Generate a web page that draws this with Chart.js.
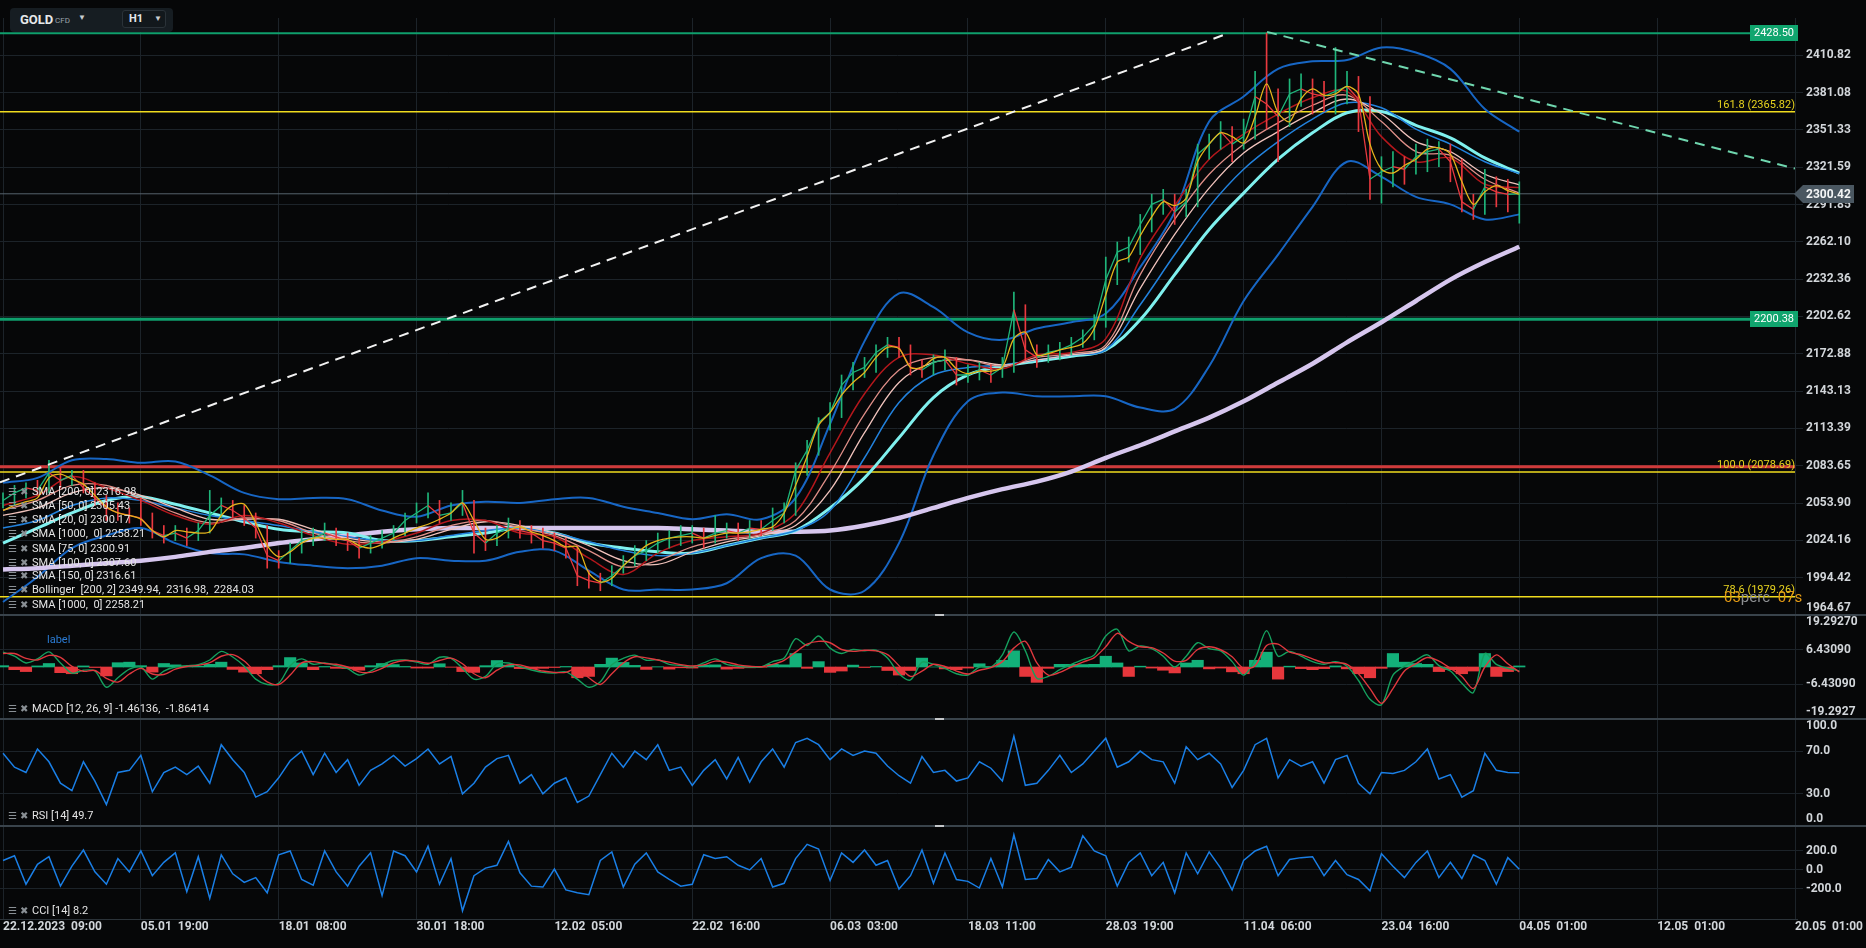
<!DOCTYPE html>
<html><head><meta charset="utf-8">
<script src="https://cdn.jsdelivr.net/npm/chart.js"></script>
<style>
html,body{margin:0;padding:0;background:#060708;overflow:hidden;}
#wrap{position:relative;width:1866px;height:948px;background:#060708;}
#c{position:absolute;left:0;top:0;}
#hdr{position:absolute;left:10px;top:8px;width:163px;height:24px;background:#161d22;border-radius:4px;font-family:Roboto,"Noto Sans",sans-serif;}
#hdr .sym{position:absolute;left:10px;top:4px;font-size:13px;font-weight:bold;color:#e6e9eb;}
#hdr .cfd{position:absolute;left:45px;top:8px;font-size:8px;color:#9aa3aa;}
#hdr .car{position:absolute;left:68px;top:5px;font-size:8px;color:#c8ccd0;}
#hdr .tf{position:absolute;left:112px;top:2px;width:42px;height:16px;border:1px solid #2a3238;border-radius:3px;background:#12181c;}
#hdr .tf b{position:absolute;left:6px;top:1px;font-size:11px;color:#e6e9eb;}
#hdr .tf i{position:absolute;left:31px;top:3px;font-size:8px;font-style:normal;color:#c8ccd0;}
.lg{position:absolute;left:8px;height:14px;line-height:14px;font-family:Roboto,"Noto Sans",sans-serif;font-size:11px;color:#e4e4e4;white-space:pre;}
.lg .ic{display:inline-block;width:12px;color:#8a9095;font-size:10px;font-family:"DejaVu Sans",sans-serif;}
.lbl{position:absolute;left:47px;top:633px;font-family:Roboto,sans-serif;font-size:11px;color:#2b7bd3;}
</style>
</head><body>
<div id="wrap">
<canvas id="c" width="1866" height="948"></canvas>
<div id="hdr"><span class="sym">GOLD</span><span class="cfd">CFD</span><span class="car">▼</span><div class="tf"><b>H1</b><i>▼</i></div></div>
<div class="lg" style="top:485px"><span class="ic">☰</span><span class="ic">✖</span>SMA [200, 0] 2316.98</div>
<div class="lg" style="top:499px"><span class="ic">☰</span><span class="ic">✖</span>SMA [50, 0] 2305.43</div>
<div class="lg" style="top:513px"><span class="ic">☰</span><span class="ic">✖</span>SMA [20, 0] 2300.17</div>
<div class="lg" style="top:527px"><span class="ic">☰</span><span class="ic">✖</span>SMA [1000,  0] 2258.21</div>
<div class="lg" style="top:542px"><span class="ic">☰</span><span class="ic">✖</span>SMA [75, 0] 2300.91</div>
<div class="lg" style="top:556px"><span class="ic">☰</span><span class="ic">✖</span>SMA [100, 0] 2307.60</div>
<div class="lg" style="top:569px"><span class="ic">☰</span><span class="ic">✖</span>SMA [150, 0] 2316.61</div>
<div class="lg" style="top:583px"><span class="ic">☰</span><span class="ic">✖</span>Bollinger  [200, 2] 2349.94,  2316.98,  2284.03</div>
<div class="lg" style="top:598px"><span class="ic">☰</span><span class="ic">✖</span>SMA [1000,  0] 2258.21</div>
<div class="lbl">label</div>
<div class="lg" style="top:702px"><span class="ic">☰</span><span class="ic">✖</span>MACD [12, 26, 9] -1.46136,  -1.86414</div>
<div class="lg" style="top:809px"><span class="ic">☰</span><span class="ic">✖</span>RSI [14] 49.7</div>
<div class="lg" style="top:904px"><span class="ic">☰</span><span class="ic">✖</span>CCI [14] 8.2</div>
</div>
<script>
// ---------- DATA ----------
const xLabels = ['22.12.2023  09:00','05.01  19:00','18.01  08:00','30.01  18:00','12.02  05:00','22.02  16:00','06.03  03:00','18.03  11:00','28.03  19:00','11.04  06:00','23.04  16:00','04.05  01:00','12.05  01:00','20.05  01:00'];

const mainTicks = [1964.67,1994.42,2024.16,2053.90,2083.65,2113.39,2143.13,2172.88,2202.62,2232.36,2262.10,2291.85,2321.59,2351.33,2381.08,2410.82];
const macdTicks = [-19.2927,-6.4309,6.4309,19.2927];
const macdTickLabels = ['-19.2927','-6.43090','6.43090','19.29270'];
const rsiTicks = [0,30,70,100];
const cciTicks = [-200,0,200];

const close = [2056,2062,2066,2064,2078,2072,2076,2066,2058,2050,
2046,2044,2042,2032,2028,2030,2026,2032,2044,2052,
2048,2042,2034,2012,2008,2016,2024,2026,2030,2027,
2024,2018,2022,2026,2030,2040,2046,2052,2044,2046,
2054,2030,2022,2030,2034,2032,2030,2024,2022,2018,
1996,1992,1990,1996,2004,2012,2016,2022,2026,2028,
2030,2026,2030,2032,2030,2034,2033,2040,2046,2080,
2096,2118,2126,2148,2158,2162,2174,2180,2178,2162,
2160,2166,2168,2156,2156,2160,2156,2162,2208,2176,
2170,2174,2176,2180,2186,2196,2232,2254,2258,2276,
2292,2296,2286,2294,2332,2340,2350,2340,2346,2378,
2372,2362,2380,2384,2380,2378,2382,2386,2376,2312,
2318,2322,2320,2330,2334,2336,2326,2294,2288,2306,
2302,2300,2300.42];
const high = [2062,2068,2070,2072,2088,2082,2080,2080,2070,2060,
2054,2050,2058,2046,2036,2036,2034,2038,2064,2058,
2056,2052,2046,2036,2016,2022,2032,2034,2038,2034,
2030,2026,2028,2032,2036,2046,2054,2062,2056,2054,
2064,2056,2034,2036,2042,2040,2036,2034,2030,2026,
2020,2000,1998,2004,2012,2020,2024,2030,2032,2036,
2036,2034,2044,2038,2038,2040,2040,2050,2054,2086,
2104,2122,2134,2156,2166,2170,2180,2186,2186,2180,
2168,2172,2176,2170,2164,2166,2164,2170,2222,2212,
2180,2180,2182,2186,2192,2204,2250,2262,2266,2284,
2300,2304,2300,2304,2340,2348,2358,2354,2360,2398,
2428.5,2384,2392,2396,2392,2390,2417,2398,2394,2378,
2330,2334,2330,2340,2344,2342,2340,2328,2300,2320,
2314,2312,2310];
const low = [2050,2052,2058,2060,2062,2066,2068,2062,2052,2040,
2040,2038,2036,2026,2022,2024,2020,2024,2030,2042,
2042,2036,2026,2002,2002,2006,2014,2020,2024,2020,
2016,2010,2014,2018,2024,2028,2038,2042,2038,2040,
2044,2014,2016,2020,2026,2026,2022,2018,2016,2010,
1988,1986,1984,1988,1998,2004,2008,2014,2018,2020,
2022,2018,2022,2026,2024,2026,2028,2032,2038,2044,
2076,2092,2112,2122,2144,2154,2158,2170,2170,2156,
2154,2156,2160,2148,2150,2152,2150,2154,2158,2168,
2162,2166,2168,2172,2178,2184,2194,2228,2246,2252,
2270,2284,2276,2282,2290,2328,2336,2326,2336,2344,
2352,2326,2354,2370,2364,2366,2364,2372,2350,2296,
2293,2306,2308,2316,2318,2322,2310,2286,2280,2284,
2290,2286,2277];
const sma20 = [2048,2052,2055,2058,2074,2077,2073,2069,2060,2051,
2046,2044,2041,2032,2027,2032,2031,2030,2031,2044,
2052,2053,2038,2020,2011,2015,2022,2026,2026,2025,
2025,2020,2018,2021,2026,2030,2034,2037,2041,2046,
2054,2040,2025,2026,2032,2035,2031,2028,2024,2019,
2019,1998,1991,1994,2004,2012,2020,2024,2026,2027,
2027,2026,2028,2030,2030,2031,2033,2035,2046,2068,
2091,2116,2126,2140,2150,2158,2170,2178,2177,2162,
2162,2169,2170,2161,2157,2159,2159,2162,2185,2190,
2172,2173,2176,2178,2181,2193,2220,2246,2250,2267,
2282,2294,2291,2297,2326,2340,2349,2346,2341,2362,
2388,2365,2358,2376,2384,2379,2380,2386,2380,2340,
2320,2317,2323,2328,2336,2337,2332,2310,2292,2302,
2307,2303,2300.17];
// slower averages, 4 samples per axis step
const sma50 = [2052,2060,2075,2066,2056,2044,2037,2044,2038,2028,
2021,2023,2030,2040,2040,2030,2027,2010,1997,2014,
2024,2027,2030,2046,2094,2141,2170,2172,2165,2161,
2172,2174,2185,2249,2291,2328,2348,2364,2377,2382,
2346,2326,2329,2308,2305.43];
const sma75 = [2048,2056,2068,2068,2058,2046,2038,2042,2040,2030,
2024,2022,2027,2036,2040,2034,2028,2016,2003,2008,
2019,2025,2029,2040,2078,2125,2160,2170,2168,2163,
2170,2173,2180,2236,2280,2316,2340,2357,2371,2379,
2358,2334,2331,2312,2300.91];
const sma100 = [2044,2050,2062,2066,2060,2050,2041,2041,2041,2033,
2026,2023,2025,2033,2039,2036,2030,2020,2008,2005,
2015,2023,2028,2036,2064,2110,2150,2166,2168,2164,
2168,2172,2178,2225,2268,2305,2333,2350,2365,2376,
2364,2342,2334,2316,2307.60];
const sma150 = [2034,2040,2052,2058,2056,2050,2044,2040,2036,2031,
2027,2024,2024,2028,2032,2034,2030,2023,2016,2012,
2014,2020,2026,2032,2048,2090,2134,2156,2162,2164,
2168,2172,2176,2212,2252,2290,2320,2342,2360,2373,
2369,2352,2340,2326,2316.61];
const sma200 = [2022,2034,2046,2056,2059,2053,2046,2039,2033,2031,
2030,2024,2024,2027,2030,2034,2030,2022,2018,2015,
2014,2020,2026,2032,2050,2074,2106,2138,2156,2163,
2167,2171,2176,2200,2236,2272,2301,2328,2349,2365,
2366,2355,2345,2329,2316.98];
const sma1000 = [2001,2002,2004,2006,2008,2011,2015,2018,2022,2025,
2028,2031,2033,2034,2034,2034,2034,2034,2034,2034,
2033,2032,2031,2031,2032,2036,2042,2050,2058,2065,
2071,2079,2090,2100,2111,2122,2135,2150,2165,2182,
2198,2215,2232,2246,2258.21];
const bbUpper = [2070,2074,2088,2089,2086,2087,2076,2062,2057,2058,
2057,2048,2043,2052,2055,2054,2057,2058,2051,2046,
2041,2045,2041,2058,2117,2183,2221,2210,2190,2184,
2193,2198,2205,2242,2286,2358,2378,2400,2406,2407,
2417,2413,2400,2368,2349.94];
const bbLower = [1975,1995,2018,2028,2034,2022,2014,2013,2007,2004,
2002,2004,2010,2008,2008,2015,2016,2000,1985,1985,
1985,1990,2010,2012,1985,1984,2022,2092,2135,2142,
2139,2139,2139,2130,2129,2163,2215,2252,2290,2326,
2314,2298,2292,2280,2284.03];

const macd = [5.5,4.0,1.5,3.0,5.6,1.5,-2.3,-1.2,-1.5,-7.5,
-4.0,-0.8,0.0,-4.5,-1.5,0.0,0.5,0.9,2.6,5.8,
3.7,0.3,-4.5,-6.5,-6.0,0.5,3.0,1.0,1.5,0.5,
-0.6,-3.0,-1.5,0.8,2.4,2.6,1.8,1.0,3.6,3.2,
-0.5,-4.5,-3.5,1.2,1.5,0.2,-1.1,-2.0,-2.2,-1.8,
-4.5,-7.5,-5.5,0.8,3.2,4.4,2.5,2.7,1.0,0.6,
0.0,1.5,3.0,1.0,0.3,0.0,0.0,2.0,3.3,10.5,
8.0,11.5,7.0,5.0,6.5,6.0,6.2,3.3,-2.5,-4.8,
1.8,1.0,-0.5,-2.5,-3.0,0.0,0.0,4.5,13.0,6.0,
-4.2,-3.5,-1.0,1.0,2.7,4.5,11.5,14.0,6.0,7.8,
6.8,4.0,0.0,4.0,9.0,6.8,6.0,2.0,-3.0,3.0,
13.5,4.0,5.8,4.0,2.0,1.0,2.0,0.3,-5.0,-12.0,
-14.0,-3.0,0.3,2.5,4.5,0.5,-1.5,-6.0,-9.5,5.0,
1.0,-0.5,-1.46136];
const signal = [5.0,5.0,3.2,2.6,4.3,3.6,0.2,-1.6,-1.3,-4.2,
-5.6,-2.6,-0.5,-2.6,-2.8,-0.8,0.2,0.6,1.6,4.0,
4.6,2.2,-2.0,-5.5,-6.5,-3.0,1.5,2.0,1.3,1.0,
0.0,-1.8,-2.0,-0.5,1.5,2.4,2.2,1.4,2.4,3.3,
1.2,-2.5,-4.0,-1.2,0.8,0.8,-0.4,-1.5,-2.0,-2.0,
-0.5,-4.0,-6.5,-2.5,1.5,3.8,3.4,2.6,1.8,0.9,
0.4,0.8,2.2,1.8,0.8,0.3,0.1,1.0,2.5,5.5,
8.5,9.5,9.0,6.5,5.8,6.2,6.0,4.6,0.5,-3.5,
-1.5,1.0,0.2,-1.5,-2.6,-1.2,-0.2,2.0,7.0,9.5,
1.5,-3.0,-2.0,0.0,1.8,3.5,7.5,12.5,9.5,7.5,
7.2,5.2,2.2,2.5,6.5,7.5,6.4,3.8,-0.5,0.5,
8.0,8.5,5.5,4.6,3.0,1.6,1.6,1.0,-2.5,-8.0,
-13.5,-8.0,-1.5,1.2,3.5,2.2,-0.5,-3.5,-8.0,0.0,
4.5,1.2,-1.86414];
const macdHist = [0.5,-1.0,-1.7,0.4,1.3,-2.1,-2.5,0.4,-0.2,-3.3,
1.6,1.8,0.5,-1.9,1.3,0.8,0.3,0.3,1.0,1.8,
-0.9,-1.9,-2.5,-1.0,0.5,3.5,1.5,-1.0,0.2,-0.5,
-0.6,-1.2,0.5,1.3,0.9,0.2,-0.4,-0.4,1.2,-0.1,
-1.7,-2.0,0.5,2.4,0.7,-0.6,-0.7,-0.5,-0.2,0.2,
-4.0,-3.5,1.0,3.3,1.7,0.6,-0.9,0.1,-0.8,-0.3,
-0.4,0.7,0.8,-0.8,-0.5,-0.3,-0.1,1.0,0.8,5.0,
-0.5,2.0,-2.0,-1.5,0.7,-0.2,0.2,-1.3,-3.0,-1.3,
3.3,0.0,-0.7,-1.0,-0.4,1.2,0.2,2.5,6.0,-3.5,
-5.7,-0.5,1.0,1.0,0.9,1.0,4.0,1.5,-3.5,0.3,
-0.4,-1.2,-2.2,1.5,2.5,-0.7,-0.4,-1.8,-2.5,2.5,
5.5,-4.5,0.3,-0.6,-1.0,-0.6,0.4,-0.7,-2.5,-4.0,
-0.5,5.0,1.8,1.3,1.0,-1.7,-1.0,-2.5,-1.5,5.0,
-3.5,-1.7,0.4];
const rsi = [68,55,50,72,60,40,33,60,42,20,
50,52,66,32,50,55,48,56,40,76,
62,50,27,32,45,61,70,48,68,50,
62,38,52,58,66,56,63,72,58,65,
30,40,55,63,66,40,48,30,40,45,
22,28,48,68,55,70,62,76,52,55,
38,52,62,44,64,41,60,72,55,78,
82,76,62,72,66,70,68,56,47,40,
65,50,52,42,45,60,54,42,84,38,
40,52,66,50,58,70,82,55,60,70,
62,60,40,74,62,68,58,36,52,76,
82,45,62,56,60,40,62,66,40,30,
50,49,52,60,72,44,48,27,33,68,
52,50,49.7];
const cci = [100,150,-150,60,140,-170,40,210,-20,-150,
120,-20,200,-60,80,180,-230,140,-300,160,
-40,-130,-80,-240,160,200,-100,-160,200,-20,
-170,40,180,-270,200,150,-20,250,-150,120,
-430,-60,20,50,300,-30,-170,-180,10,-210,
-240,-260,100,190,-180,60,180,-20,-100,-170,
-150,160,120,140,50,0,120,-180,-140,120,
270,220,-110,180,80,210,50,100,-200,-60,
210,-140,180,-100,-120,-190,120,-180,370,-100,
-90,110,-20,30,360,200,150,-170,80,180,
-60,80,-240,180,-40,190,20,-210,100,200,
250,-60,110,130,140,-60,100,-50,-100,-220,
170,40,-80,80,200,-80,80,-90,160,100,
-150,130,8.2];

const greenLevels = [2428.50, 2200.38];
const fibLevels = [2365.82, 2078.69, 1979.26];
const fibLabels = ['161.8 (2365.82)', '100.0 (2078.69)', '78.6 (1979.26)'];
const redLevels = [2082.8];
const lastPrice = 2300.42;
const whiteTrend = [[-0.0218, 2070.4], [8.85, 2426.8]];
const greenTrend = [[9.17, 2429.5], [13, 2320.5]];

// ---------- CHART ----------
const X_MIN = -0.0218, X_MAX = 13;
const STEP = 1/12, MA_STEP = 0.25;
const GRID = '#1c2329';
const UP = '#1fb57a', DOWN = '#e9393f';
const pts = (arr, step) => arr.map((v, i) => ({x: i * step, y: v}));
const hline = v => [{x: X_MIN, y: v}, {x: X_MAX, y: v}];
const seg = arr => arr.map(p => ({x: p[0], y: p[1]}));

Chart.defaults.font.family = 'Roboto, "Noto Sans", sans-serif';

const ds = [];
const line = (data, color, width, order, axis, extra) => Object.assign({
  type: 'line', data, borderColor: color, borderWidth: width, order,
  yAxisID: axis || 'y', pointRadius: 0, fill: false, tension: 0
}, extra || {});

// levels (back)
greenLevels.forEach((v, i) => ds.push(line(hline(v), '#0f9f6c', i === 0 ? 2 : 3, 100)));
redLevels.forEach(v => ds.push(line(hline(v), '#cf3a3a', 3, 100)));
fibLevels.forEach(v => ds.push(line(hline(v), '#f0dc1e', 1.5, 99)));
ds.push(line(hline(lastPrice), '#56626c', 1, 99));
// bands & averages
ds.push(line(pts(bbUpper, MA_STEP), '#1766c4', 2, 90, 'y', {tension: 0.35}));
ds.push(line(pts(bbLower, MA_STEP), '#1766c4', 2, 90, 'y', {tension: 0.35}));
ds.push(line(pts(sma1000, MA_STEP), '#d6c6ee', 4.5, 88, 'y', {tension: 0.3}));
ds.push(line(pts(sma200, MA_STEP), '#7ff0ee', 3, 86, 'y', {tension: 0.35}));
ds.push(line(pts(sma150, MA_STEP), '#2282dd', 1.5, 84, 'y', {tension: 0.35}));
ds.push(line(pts(sma100, MA_STEP), '#f0c3bc', 1.3, 82, 'y', {tension: 0.35}));
ds.push(line(pts(sma75, MA_STEP), '#df8f88', 1.3, 80, 'y', {tension: 0.35}));
ds.push(line(pts(sma50, MA_STEP), '#b3171c', 1.5, 78, 'y', {tension: 0.35}));
// price wicks + close line
ds.push({type: 'bar', yAxisID: 'y', order: 60, grouped: false, barThickness: 1,
  data: close.map((c, i) => ({x: i * STEP, y: [low[i], high[i]]})),
  backgroundColor: ctx => (ctx.dataIndex > 0 && close[ctx.dataIndex] < close[ctx.dataIndex - 1]) ? DOWN : UP});
ds.push(line(pts(close, STEP), UP, 1.3, 55, 'y', {segment: {borderColor: c => c.p1.parsed.y >= c.p0.parsed.y ? UP : DOWN}}));
ds.push(line(pts(sma20, STEP), '#e4b41c', 1.3, 50, 'y', {tension: 0.3}));
// trend lines
ds.push(line(seg(whiteTrend), '#f2f2f2', 2, 40, 'y', {borderDash: [10, 7]}));
ds.push(line(seg(greenTrend), '#6fd6ae', 2, 40, 'y', {borderDash: [10, 7]}));
// MACD
ds.push({type: 'bar', yAxisID: 'yMacd', order: 30, grouped: false, barPercentage: 1, categoryPercentage: 1, borderWidth: 0,
  data: pts(macdHist, STEP), backgroundColor: ctx => (ctx.raw && ctx.raw.y < 0) ? '#e6373c' : '#13b079'});
ds.push(line(pts(signal, STEP), '#e0383e', 1.4, 20, 'yMacd', {tension: 0.3}));
ds.push(line(pts(macd, STEP), '#15a05e', 1.4, 21, 'yMacd', {tension: 0.3}));
// RSI, CCI
ds.push(line(pts(rsi, STEP), '#1a7fe6', 1.5, 20, 'yRsi'));
ds.push(line(pts(cci, STEP), '#1a7fe6', 1.5, 20, 'yCci'));

const tickFont = {family: 'Roboto, "Noto Sans", sans-serif', size: 12, weight: 'bold'};
const yAxis = (weight, min, max, ticks, labelFn) => ({
  type: 'linear', position: 'right', stack: 'panes', stackWeight: weight,
  min, max, offset: false,
  border: {display: false},
  grid: {color: GRID, tickColor: GRID, tickLength: 8, drawTicks: true},
  ticks: {color: '#d2d6da', font: tickFont, padding: 3, autoSkip: false, callback: labelFn},
  afterBuildTicks: s => { s.ticks = ticks.map(v => ({value: v})); },
  afterFit: s => { s.width = 71; }
});

const overlay = {
  id: 'overlay',
  afterDraw(chart) {
    const {ctx, scales} = chart;
    const y = scales.y;
    const R = chart.chartArea.right;
    ctx.save();
    [scales.yMacd, scales.yRsi, scales.yCci].forEach(s => {
      const t = Math.round(s.top);
      ctx.fillStyle = '#39434b'; ctx.fillRect(0, t - 1, chart.width, 2);
      ctx.fillStyle = '#c4c7ca'; ctx.fillRect(935, t - 1, 9, 2);
    });
    ctx.fillStyle = '#2b3339'; ctx.fillRect(0, Math.round(scales.yCci.bottom), R + 3, 1);
    // fib texts
    ctx.font = '11px Roboto, "Noto Sans", sans-serif';
    ctx.textAlign = 'right'; ctx.textBaseline = 'alphabetic';
    ctx.fillStyle = '#e8d41f';
    fibLevels.forEach((v, i) => ctx.fillText(fibLabels[i], R, y.getPixelForValue(v) - 4));
    // countdown text
    ctx.font = '15px Roboto, "Noto Sans", sans-serif'; ctx.textAlign = 'left';
    const cy = y.getPixelForValue(fibLevels[2]) + 5;
    ctx.fillStyle = '#e39a14'; ctx.fillText('03', 1724, cy);
    let w = ctx.measureText('03').width;
    ctx.fillStyle = '#8d8f91'; ctx.fillText('perc', 1724 + w, cy);
    w += ctx.measureText('perc ').width;
    ctx.fillStyle = '#e39a14'; ctx.fillText('07s', 1724 + w + 4, cy);
    // green tags
    ctx.font = '11px Roboto, "Noto Sans", sans-serif'; ctx.textAlign = 'center'; ctx.textBaseline = 'middle';
    greenLevels.forEach(v => {
      const py = Math.round(y.getPixelForValue(v));
      ctx.fillStyle = '#10a56e'; ctx.fillRect(R - 45, py - 8, 48, 16);
      ctx.fillStyle = '#ffffff'; ctx.fillText(v.toFixed(2), R - 21, py + 0.5);
    });
    // last price tag
    const py = Math.round(y.getPixelForValue(lastPrice));
    ctx.fillStyle = '#4a5761';
    ctx.beginPath();
    ctx.moveTo(R - 1, py); ctx.lineTo(R + 8, py - 9); ctx.lineTo(R + 59, py - 9);
    ctx.lineTo(R + 59, py + 9); ctx.lineTo(R + 8, py + 9); ctx.closePath(); ctx.fill();
    ctx.font = 'bold 12px Roboto, "Noto Sans", sans-serif'; ctx.textAlign = 'left';
    ctx.fillStyle = '#f2f4f5'; ctx.fillText(lastPrice.toFixed(2), R + 11, py + 0.5);
    ctx.restore();
  }
};

new Chart(document.getElementById('c'), {
  type: 'line',
  data: {datasets: ds},
  plugins: [overlay],
  options: {
    responsive: false, animation: false, devicePixelRatio: 1, events: [],
    layout: {padding: {top: 18, left: 0, right: 0, bottom: 0}},
    plugins: {legend: {display: false}, tooltip: {enabled: false}},
    elements: {point: {radius: 0}},
    scales: {
      x: {
        type: 'linear', min: X_MIN, max: X_MAX, offset: false, position: 'bottom',
        border: {display: false},
        grid: {color: GRID, drawTicks: false, offset: false},
        ticks: {color: '#d2d6da', font: {family: 'Roboto, "Noto Sans", sans-serif', size: 12, weight: 'bold'},
          align: 'start', padding: 1, maxRotation: 0, minRotation: 0, autoSkip: false,
          callback: (v, i) => xLabels[i]},
        afterBuildTicks: s => { s.ticks = xLabels.map((_, i) => ({value: i})); },
        afterFit: s => { s.height = 29; }
      },
      y: yAxis(597, 1964.67, 2440.56, mainTicks, (v, i) => i === 0 ? [v.toFixed(2), ''] : v.toFixed(2)),
      yMacd: yAxis(104, -19.2927, 19.2927, macdTicks, (v, i) => i === 0 ? [macdTickLabels[i], ''] : (i === 3 ? ['', macdTickLabels[i]] : macdTickLabels[i])),
      yRsi: yAxis(107, 0, 100, rsiTicks, (v, i) => i === 0 ? [v.toFixed(1), ''] : (i === 3 ? ['', v.toFixed(1)] : v.toFixed(1))),
      yCci: yAxis(93, -516, 463, cciTicks, v => v.toFixed(1))
    }
  }
});
</script>
</body></html>
